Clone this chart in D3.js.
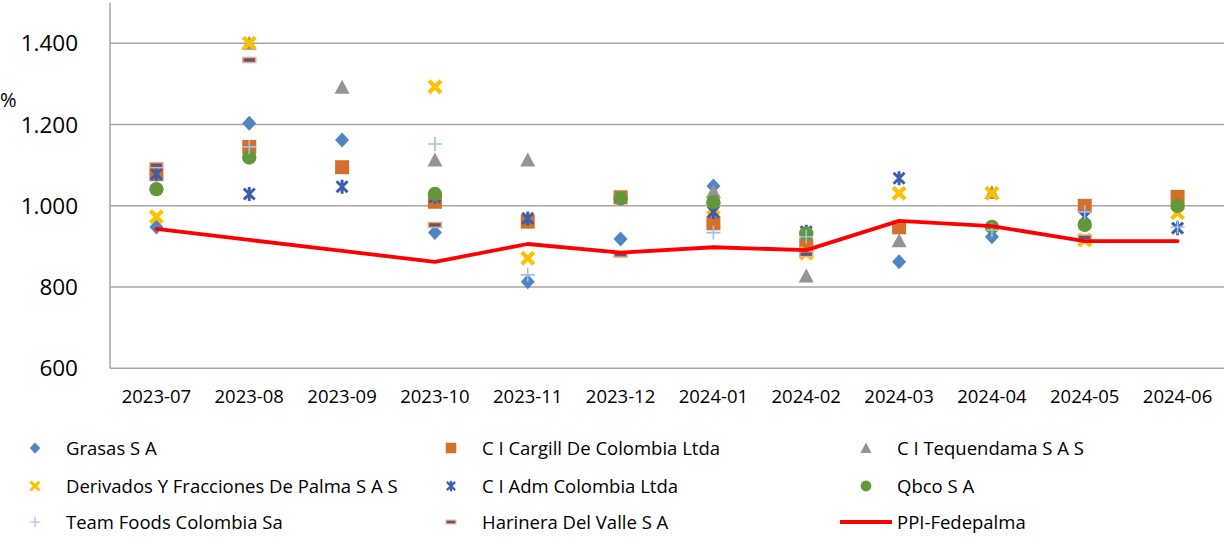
<!DOCTYPE html>
<html>
<head>
<meta charset="utf-8">
<script src="https://cdn.jsdelivr.net/npm/d3@7"></script>
<style>
  body { margin: 0; background: #fff; }
  svg { display: block; font-family: "Open Sans", sans-serif; }
</style>
</head>
<body>
<svg id="chart" width="1229" height="538"></svg>
<script>
// months on the x axis
var months = ["2023-07", "2023-08", "2023-09", "2023-10", "2023-11", "2023-12",
              "2024-01", "2024-02", "2024-03", "2024-04", "2024-05", "2024-06"];

var yTicks = [600, 800, 1000, 1200, 1400];

// one array per company (null = no price that month)
var grasas      = [948, 1203, 1162, 934, 813, 918, 1049, null, 862, 924, null, null];
var cargill     = [1078, 1145, 1095, 1010, 961, 1021, 957, 903, 947, null, 1000, 1022];
var tequendama  = [null, 1400, 1292, 1113, 1113, null, 1035, 827, 914, 1033, null, null];
var derivados   = [973, 1400, null, 1293, 871, null, 994, 883, 1031, 1031, 916, 983];
var adm         = [1078, 1029, 1047, 1022, 969, null, 985, 936, 1068, null, 973, 945];
var qbco        = [1041, 1119, null, 1029, null, 1018, 1009, 932, null, 948, 953, 1000];
var teamFoods   = [null, 1145, null, 1152, 830, null, 934, 924, null, 940, 985, 948];
var harinera    = [1100, 1359, null, 953, null, 880, null, 881, null, null, 922, null];
var ppi         = [943, 916, 889, 862, 906, 885, 898, 891, 963, 950, 913, 913];

var series = [
    {name: "Grasas S A", values: grasas, marker: "diamond", color: "#4E86C1"},
    {name: "C I Cargill De Colombia Ltda", values: cargill, marker: "square", color: "#D5702B"},
    {name: "C I Tequendama S A S", values: tequendama, marker: "triangle", color: "#949494"},
    {name: "Derivados Y Fracciones De Palma S A S", values: derivados, marker: "x", color: "#FFC000"},
    {name: "C I Adm Colombia Ltda", values: adm, marker: "star", color: "#3D5EAD"},
    {name: "Qbco S A", values: qbco, marker: "circle", color: "#62973B"},
    {name: "Team Foods Colombia Sa", values: teamFoods, marker: "plus", color: "#9DC0E8"},
    {name: "Harinera Del Valle S A", values: harinera, marker: "dash", color: "#F2A98D"}
];

var svg = d3.select("#chart");

var x = d3.scaleBand().domain(months).range([110, 1224]).padding(0);
var y = d3.scaleLinear().domain([600, 1500]).range([368.3, 2.7]);

// grid lines
svg.append("g")
    .selectAll("line")
    .data(yTicks)
    .enter()
    .append("line")
    .attr("x1", 110)
    .attr("x2", 1224)
    .attr("y1", function (d) { return y(d); })
    .attr("y2", function (d) { return y(d); })
    .style("stroke", "#A6A6A6")
    .style("stroke-width", 1.5);

// left axis line
svg.append("line")
    .attr("x1", 110).attr("x2", 110)
    .attr("y1", y(1500)).attr("y2", y(600))
    .style("stroke", "#A6A6A6")
    .style("stroke-width", 1.5);

// y labels
var fmt = function (d) { return d3.format(",")(d).replace(",", "."); };
svg.append("g")
    .selectAll("text")
    .data(yTicks)
    .enter()
    .append("text")
    .attr("x", 78)
    .attr("y", function (d) { return y(d); })
    .attr("dy", "0.36em")
    .attr("text-anchor", "end")
    .style("font-size", "22.5px")
    .style("fill", "#000")
    .text(fmt);

svg.append("text")
    .attr("x", 0)
    .attr("y", 107)
    .style("font-size", "20px")
    .text("%");

// x labels
svg.append("g")
    .selectAll("text")
    .data(months)
    .enter()
    .append("text")
    .attr("x", function (d) { return x(d) + x.bandwidth() / 2; })
    .attr("y", 403)
    .attr("text-anchor", "middle")
    .style("font-size", "18.5px")
    .text(function (d) { return d; });

// marker drawing
function drawMarker(g, type, color) {
    if (type === "diamond") {
        g.append("path").attr("d", "M0,-7.5L7,0L0,7.5L-7,0Z").style("fill", color);
    } else if (type === "square") {
        g.append("rect").attr("x", -7).attr("y", -7).attr("width", 14).attr("height", 14).style("fill", color);
    } else if (type === "triangle") {
        g.append("path").attr("d", "M0,-7.5L7.5,6.5L-7.5,6.5Z").style("fill", color);
    } else if (type === "circle") {
        g.append("circle").attr("r", 7.2).style("fill", color);
    } else if (type === "x") {
        g.append("path").attr("d", "M-6,-6L6,6M6,-6L-6,6")
            .style("stroke", color).style("stroke-width", 4.2).style("fill", "none");
    } else if (type === "star") {
        g.append("path").attr("d", "M-5.5,-5.5L5.5,5.5M5.5,-5.5L-5.5,5.5M0,-7L0,7")
            .style("stroke", color).style("stroke-width", 3).style("fill", "none");
    } else if (type === "plus") {
        g.append("path").attr("d", "M-7,0L7,0M0,-7L0,7")
            .style("stroke", color).style("stroke-width", 1.6).style("fill", "none");
    } else if (type === "dash") {
        g.append("rect").attr("x", -6.5).attr("y", -2.5).attr("width", 13).attr("height", 5)
            .style("fill", "#5A5A6A").style("stroke", color).style("stroke-width", 1.5);
    }
}

series.forEach(function (s) {
    var pts = months.map(function (m, i) { return {m: m, v: s.values[i]}; })
        .filter(function (d) { return d.v !== null; });
    svg.append("g")
        .selectAll("g")
        .data(pts)
        .enter()
        .append("g")
        .attr("transform", function (d) {
            return "translate(" + (x(d.m) + x.bandwidth() / 2) + "," + y(d.v) + ")";
        })
        .each(function () { drawMarker(d3.select(this), s.marker, s.color); });
});

// PPI line
var line = d3.line()
    .x(function (d, i) { return x(months[i]) + x.bandwidth() / 2; })
    .y(function (d) { return y(d); });

svg.append("path")
    .datum(ppi)
    .attr("d", line)
    .style("fill", "none")
    .style("stroke", "#FF0000")
    .style("stroke-width", 3.8)
    .style("stroke-linejoin", "round")
    .style("stroke-linecap", "round");

// legend
var legendCols = [35, 451, 866];
var legendRows = [448, 486, 522];
var legendItems = series.concat([{name: "PPI-Fedepalma", marker: "line", color: "#FF0000"}]);

legendItems.forEach(function (s, i) {
    var cx = legendCols[i % 3];
    var cy = legendRows[Math.floor(i / 3)];
    var g = svg.append("g").attr("transform", "translate(" + cx + "," + cy + ")");
    if (s.marker === "line") {
        g.append("line").attr("x1", -26).attr("x2", 26).attr("y1", 0).attr("y2", 0)
            .style("stroke", s.color).style("stroke-width", 3.8);
    } else {
        var mg = g.append("g").attr("transform", "scale(0.75)");
        drawMarker(mg, s.marker, s.color);
    }
    svg.append("text")
        .attr("x", cx + 31)
        .attr("y", cy)
        .attr("dy", "0.36em")
        .style("font-size", "18.5px")
        .text(s.name);
});
</script>
</body>
</html>
